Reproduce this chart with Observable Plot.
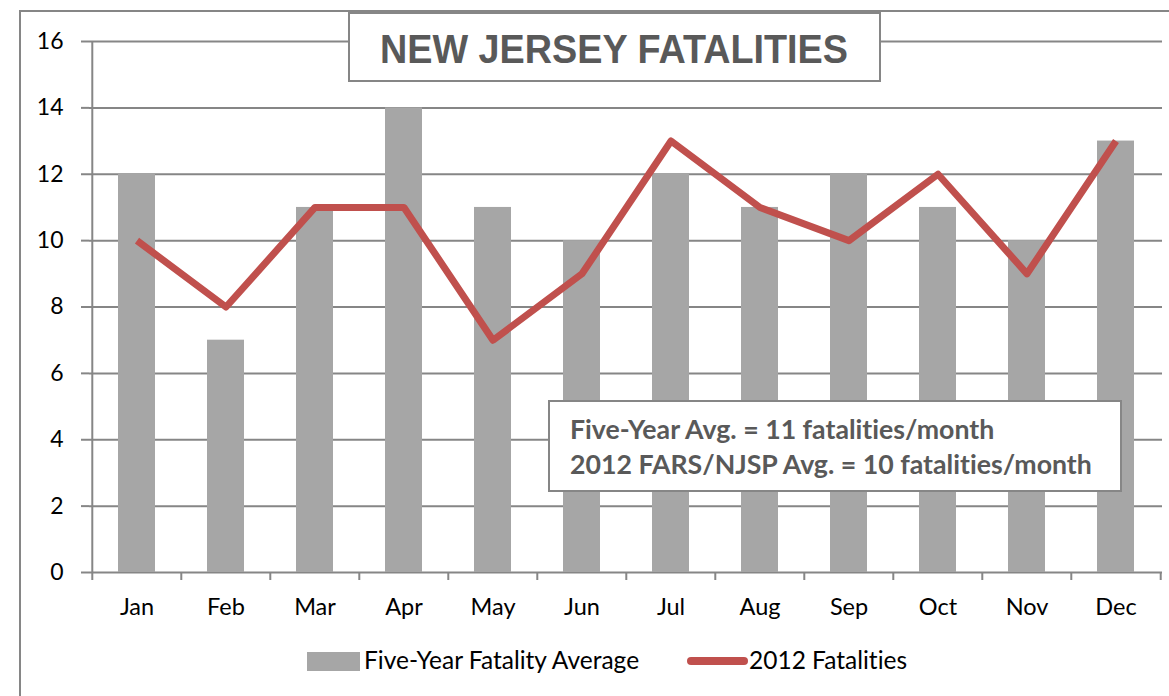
<!DOCTYPE html>
<html><head><meta charset="utf-8">
<script src="https://cdn.jsdelivr.net/npm/d3@7"></script>
<script src="https://cdn.jsdelivr.net/npm/@observablehq/plot@0.6"></script>
<style>
body{margin:0;background:#fff;}
#wrap{position:relative;width:1169px;height:696px;overflow:hidden;font-family:Lato,sans-serif;font-variant-ligatures:none;}
#outer{position:absolute;left:19px;top:10px;width:1200px;height:800px;border:2px solid #868686;box-sizing:border-box;}
#chart{position:absolute;left:0;top:0;}
#chart svg{background:transparent;}
#title{position:absolute;left:348px;top:12px;width:533px;height:70px;border:2px solid #868686;background:#fff;box-sizing:border-box;}
#note{position:absolute;left:548px;top:400px;width:574px;height:92px;border:2px solid #868686;background:#fff;box-sizing:border-box;color:#595959;font-weight:bold;font-size:26.7px;}
#note div{position:absolute;left:20px;white-space:nowrap;}
.lg{position:absolute;white-space:nowrap;font-size:24.5px;color:#000;}
</style></head>
<body>
<div id="wrap">
  <div id="outer"></div>
  <div id="chart"></div>
  <div id="title"><svg width="529" height="66"><text x="264" y="49" text-anchor="middle" font-family="Liberation Sans, Arial, sans-serif" font-weight="bold" font-size="40" fill="#595959" textLength="468" lengthAdjust="spacingAndGlyphs">NEW JERSEY FATALITIES</text></svg></div>
  <div id="note"><div id="n1" style="top:11px"></div><div id="n2" style="top:46px"></div></div>
  <div class="lg" style="left:307px;top:652px;width:53px;height:19px;background:#a6a6a6"></div>
  <div class="lg" id="lg1" style="left:364px;top:645px"></div>
  <div class="lg" style="left:687px;top:657px;width:61px;height:8px;border-radius:4px;background:#c0504d"></div>
  <div class="lg" id="lg2" style="left:749px;top:645px"></div>
</div>
<script>
const months = ["Jan","Feb","Mar","Apr","May","Jun","Jul","Aug","Sep","Oct","Nov","Dec"];
const fiveYearAvg = [12,7,11,14,11,10,12,11,12,11,10,13];
const fatalities2012 = [10,8,11,11,7,9,13,11,10,12,9,13];
const yTicks = [0,2,4,6,8,10,12,14,16];
const titleText = "NEW JERSEY FATALITIES";
const noteLines = ["Five-Year Avg. = 11 fatalities/month","2012 FARS/NJSP Avg. = 10 fatalities/month"];
const seriesNames = ["Five-Year Fatality Average","2012 Fatalities"];

document.getElementById("n1").textContent = noteLines[0];
document.getElementById("n2").textContent = noteLines[1];
document.getElementById("lg1").textContent = seriesNames[0];
document.getElementById("lg2").textContent = seriesNames[1];
document.querySelector("#title text").textContent = titleText;

const data = months.map((m,i)=>({month:m, avg:fiveYearAvg[i], f2012:fatalities2012[i]}));
const W = 1169, H = 696, mL = 89, mR = 7, mT = 41, mB = 124;
const bw = (W - mL - mR) / months.length;
const grid = "#868686";

const chart = Plot.plot({
  width: W, height: H,
  marginLeft: mL, marginRight: mR, marginTop: mT, marginBottom: mB,
  style: {fontFamily: "Lato, sans-serif", fontSize: "23px", background: "transparent", color: "#000"},
  x: {domain: months, padding: 0, label: null},
  y: {domain: [0,16], label: null},
  marks: [
    Plot.ruleY(yTicks, {stroke: grid, strokeWidth: 2, strokeOpacity: 1}),
    Plot.barY(data, {x: "month", y: "avg", fill: "#a6a6a6", insetLeft: 26, insetRight: 26}),
    Plot.ruleX(months, {x: d=>d, dx: -bw/2, y1: 0, y2: 0, insetBottom: -8, stroke: grid, strokeWidth: 2}),
    Plot.ruleX(months.slice(-1), {x: d=>d, dx: bw/2, y1: 0, y2: 0, insetBottom: -8, stroke: grid, strokeWidth: 2}),
    Plot.ruleX(months.slice(0,1), {x: d=>d, dx: -bw/2, y1: 0, y2: 16, stroke: grid, strokeWidth: 2}),
    Plot.lineY(data, {x: "month", y: "f2012", stroke: "#c0504d", strokeWidth: 7, strokeLinejoin: "round", strokeLinecap: "butt"}),
    Plot.axisY({ticks: yTicks, tickSize: 8, tickPadding: 18, stroke: grid, strokeWidth: 2, fill: "#000", fontSize: 23, label: null}),
    Plot.axisX({tickSize: 0, tickPadding: 26, fill: "#000", fontSize: 23.5, label: null})
  ]
});
document.getElementById("chart").appendChild(chart);
</script>
</body></html>
